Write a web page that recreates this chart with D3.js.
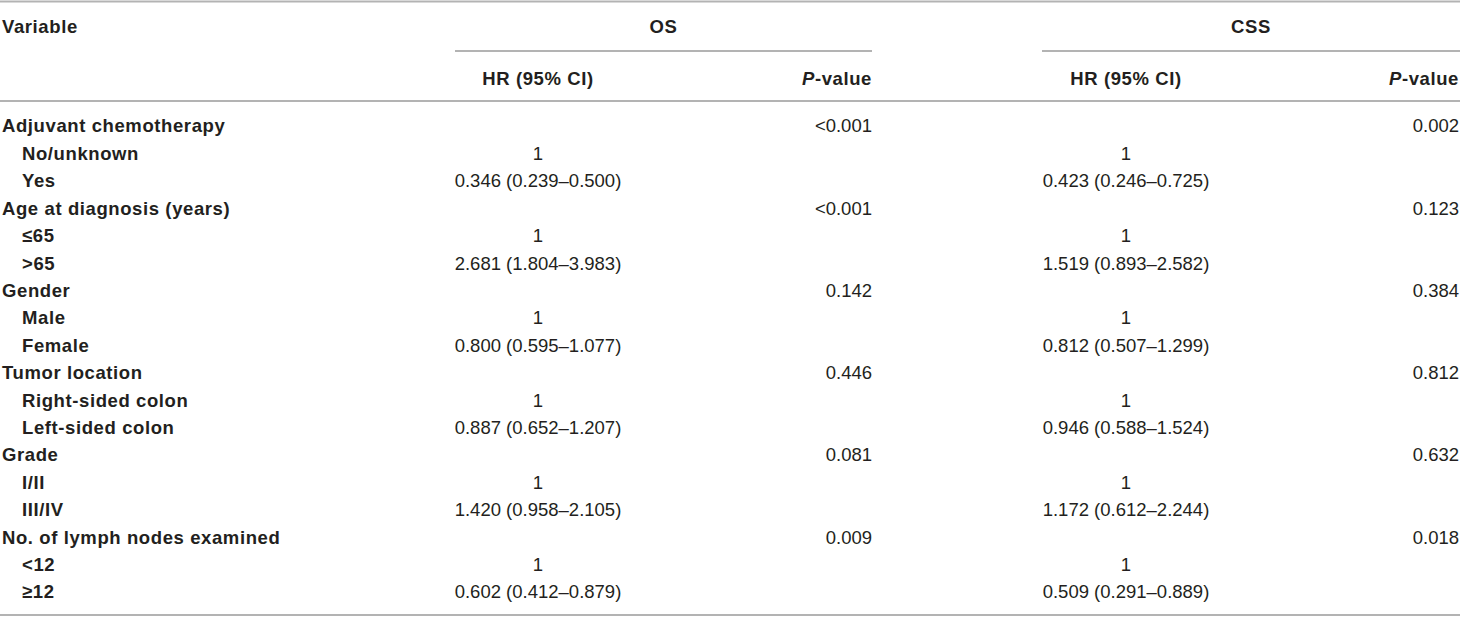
<!DOCTYPE html>
<html>
<head>
<meta charset="utf-8">
<script src="https://cdn.jsdelivr.net/npm/d3@7"></script>
<style>
  body { margin: 0; background: #fff; }
  text { font-family: "Liberation Sans", Arial, Helvetica, sans-serif; fill: #231f20; }
</style>
</head>
<body>
<svg id="table"></svg>
<script>
"use strict"

// table content
var variables = ["Adjuvant chemotherapy", "Age at diagnosis (years)", "Gender", "Tumor location", "Grade", "No. of lymph nodes examined"];
var levels = [["No/unknown", "Yes"], ["\u226465", ">65"], ["Male", "Female"], ["Right-sided colon", "Left-sided colon"], ["I/II", "III/IV"], ["<12", "\u226512"]];
var osHR = ["0.346 (0.239\u20130.500)", "2.681 (1.804\u20133.983)", "0.800 (0.595\u20131.077)", "0.887 (0.652\u20131.207)", "1.420 (0.958\u20132.105)", "0.602 (0.412\u20130.879)"];
var osP = ["<0.001", "<0.001", "0.142", "0.446", "0.081", "0.009"];
var cssHR = ["0.423 (0.246\u20130.725)", "1.519 (0.893\u20132.582)", "0.812 (0.507\u20131.299)", "0.946 (0.588\u20131.524)", "1.172 (0.612\u20132.244)", "0.509 (0.291\u20130.889)"];
var cssP = ["0.002", "0.123", "0.384", "0.812", "0.632", "0.018"];
var groups = ["OS", "CSS"];
var subHeaders = ["HR (95% CI)", "P-value"];

var width = 1460, height = 618, fs = 18.5, lineColor = "#b3b3b3";

var svg = d3.select("#table").attr("width", width).attr("height", height);

// flatten groups into rows
var rows = [];
variables.forEach(function(v, i){
    rows.push({label: v, indent: 0, os: "", osP: osP[i], css: "", cssP: cssP[i]});
    rows.push({label: levels[i][0], indent: 1, os: "1", osP: "", css: "1", cssP: ""});
    rows.push({label: levels[i][1], indent: 1, os: osHR[i], osP: "", css: cssHR[i], cssP: ""});
});

var y = d3.scalePoint().domain(d3.range(rows.length)).range([126, 592]);

// column anchors
var x = {label: 2, indent: 22, osHR: 538, osP: 872, cssHR: 1126, cssP: 1459};
var spans = [[455, 872], [1042, 1460]];

function hline(x1, x2, yy){
    svg.append("line").attr("x1", x1).attr("x2", x2).attr("y1", yy).attr("y2", yy)
        .style("stroke", lineColor).style("stroke-width", 2);
}

hline(0, width, 1.5);
hline(0, width, 101);
hline(0, width, 615);
spans.forEach(function(s){ hline(s[0], s[1], 51); });

function txt(s, xx, yy, anchor, bold){
    return svg.append("text").attr("x", xx).attr("y", yy).attr("dy", "0.35em")
        .attr("text-anchor", anchor).style("font-size", fs + "px")
        .style("font-weight", bold ? "bold" : "normal")
        .style("letter-spacing", bold ? "0.6px" : "0px")
        .text(s);
}

// header
txt("Variable", x.label, 27, "start", true);
groups.forEach(function(g, i){
    txt(g, (spans[i][0] + spans[i][1]) / 2, 27, "middle", true);
    txt(subHeaders[0], i ? x.cssHR : x.osHR, 79, "middle", true);
    var p = txt("", i ? x.cssP : x.osP, 79, "end", true);
    p.append("tspan").style("font-style", "italic").text("P");
    p.append("tspan").text("-value");
});

// body
var g = svg.append("g").selectAll("g").data(rows).join("g")
    .attr("transform", function(d, i){ return "translate(0," + y(i) + ")"; });

g.append("text").attr("x", function(d){ return d.indent ? x.indent : x.label; })
    .attr("dy", "0.35em").style("font-size", fs + "px").style("font-weight", "bold")
    .style("letter-spacing", "0.6px").text(function(d){ return d.label; });

[["os", "osHR", "middle"], ["osP", "osP", "end"], ["css", "cssHR", "middle"], ["cssP", "cssP", "end"]].forEach(function(c){
    g.append("text").attr("x", x[c[1]]).attr("dy", "0.35em").attr("text-anchor", c[2])
        .style("font-size", fs + "px").text(function(d){ return d[c[0]]; });
});
</script>
</body>
</html>
